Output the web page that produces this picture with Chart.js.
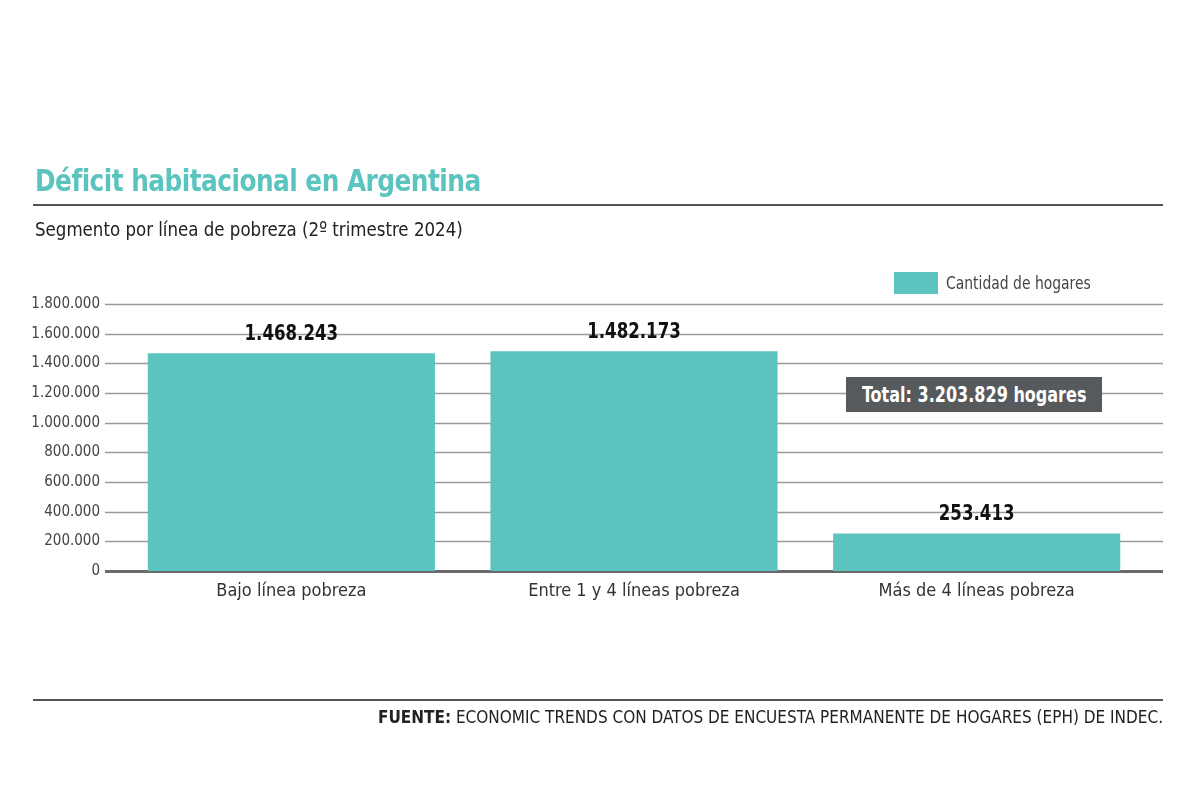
<!DOCTYPE html>
<html><head><meta charset="utf-8">
<script src="https://cdn.jsdelivr.net/npm/chart.js@4.4.1/dist/chart.umd.min.js"></script>
<style>
html,body{margin:0;padding:0;background:#fff;width:1200px;height:800px;overflow:hidden;}
#wrap{position:relative;width:1200px;height:800px;}
canvas{position:absolute;left:0;top:0;}
.t{position:absolute;white-space:nowrap;font-family:"DejaVu Sans Condensed","Liberation Sans Narrow",sans-serif;transform-origin:0 50%;}
#title{left:35px;top:162px;font-size:31px;font-weight:bold;color:#5bc4be;letter-spacing:-0.6px;transform:scaleX(0.89);}
#sub{left:35px;top:217px;font-size:20px;color:#222;transform:scaleX(0.925);}
#rule1{position:absolute;left:33px;top:204px;width:1130px;height:2px;background:#555;}
#rule2{position:absolute;left:33px;top:699px;width:1130px;height:2px;background:#555;}
#foot{right:37px;top:707px;font-size:17px;color:#222;}
#legend{position:absolute;left:894px;top:272px;}
#legbox{position:absolute;left:0;top:0;width:44px;height:22px;background:#5bc4be;}
#legtxt{left:52px;top:0px;font-size:18px;color:#444;transform:scaleX(0.86);}
#totalbox{position:absolute;left:846px;top:377px;width:256px;height:35px;background:#565a5c;}
#total{left:862px;top:380px;font-size:22px;line-height:30px;color:#fff;font-weight:bold;transform:scaleX(0.81);}
</style></head>
<body><div id="wrap">
<canvas id="c" width="1200" height="800"></canvas>
<div class="t" id="title">Déficit habitacional en Argentina</div>
<div id="rule1"></div>
<div class="t" id="sub">Segmento por línea de pobreza (2º trimestre 2024)</div>
<div id="legend"><div id="legbox"></div><div class="t" id="legtxt">Cantidad de hogares</div></div>
<div id="totalbox"></div>
<div class="t" id="total">Total: 3.203.829 hogares</div>
<div id="rule2"></div>
<div class="t" id="foot"><b>FUENTE:</b> ECONOMIC TRENDS CON DATOS DE ENCUESTA PERMANENTE DE HOGARES (EPH) DE INDEC.</div>
</div>
<script>
const categories = ["Bajo línea pobreza", "Entre 1 y 4 líneas pobreza", "Más de 4 líneas pobreza"];
const seriesName = "Cantidad de hogares";
const hogares = [1468243, 1482173, 253413];
const yTicks = [0, 200000, 400000, 600000, 800000, 1000000, 1200000, 1400000, 1600000, 1800000];

const FONT = '"DejaVu Sans Condensed","Liberation Sans Narrow",sans-serif';
const fmt = v => v.toString().replace(/\B(?=(\d{3})+(?!\d))/g, ".");

const gridPlugin = {
  id: 'extGrid',
  beforeDatasetsDraw(chart) {
    const ctx = chart.ctx, y = chart.scales.y;
    ctx.save();
    yTicks.forEach(v => {
      const py = Math.round(y.getPixelForValue(v)) + 0.5;
      ctx.beginPath();
      ctx.strokeStyle = v === 0 ? '#6a6a6a' : '#9a9a9a';
      ctx.lineWidth = v === 0 ? 3 : 1.5;
      ctx.moveTo(105, py); ctx.lineTo(1163, py);
      ctx.stroke();
    });
    ctx.restore();
  }
};
const labelPlugin = {
  id: 'valLabels',
  afterDatasetsDraw(chart) {
    const ctx = chart.ctx;
    const meta = chart.getDatasetMeta(0);
    meta.data.forEach((bar, i) => {
      ctx.save();
      ctx.translate(bar.x, bar.y - 8);
      ctx.scale(0.84, 1);
      ctx.font = 'bold 22px ' + FONT;
      ctx.fillStyle = '#111';
      ctx.textAlign = 'center';
      ctx.textBaseline = 'bottom';
      ctx.fillText(fmt(hogares[i]), 0, 0);
      ctx.restore();
    });
  }
};

new Chart(document.getElementById('c'), {
  type: 'bar',
  data: {
    labels: categories,
    datasets: [{
      label: seriesName,
      data: hogares,
      backgroundColor: '#5bc4be',
      borderWidth: 0,
      barPercentage: 0.838,
      categoryPercentage: 1.0
    }]
  },
  options: {
    responsive: false,
    animation: false,
    devicePixelRatio: 1,
    layout: { padding: { left: 0, right: 52, top: 304, bottom: 0 } },
    plugins: { legend: { display: false }, tooltip: { enabled: false } },
    scales: {
      x: {
        grid: { display: false, drawTicks: false },
        border: { display: false },
        ticks: { color: '#333', font: { family: FONT, size: 18 }, padding: 10 },
        afterFit(s) { s.height = 229; }
      },
      y: {
        min: 0, max: 1800000,
        afterBuildTicks(s) { s.ticks = yTicks.map(v => ({ value: v })); },
        grid: { display: false, drawTicks: false },
        border: { display: false },
        ticks: { color: '#444', font: { family: FONT, size: 15 }, padding: 20,
                 callback: v => fmt(v) },
        afterFit(s) { s.width = 120; }
      }
    }
  },
  plugins: [gridPlugin, labelPlugin]
});
</script>
</body></html>
